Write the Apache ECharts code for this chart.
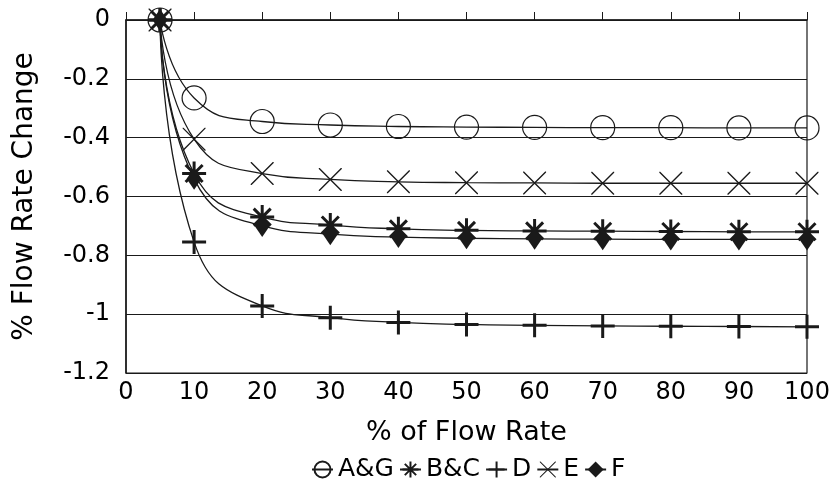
<!DOCTYPE html>
<html>
<head>
<meta charset="utf-8">
<script src="https://cdn.jsdelivr.net/npm/echarts@6/dist/echarts.min.js"></script>
<style>
  html, body { margin: 0; padding: 0; background: #fff; }
  #chart { width: 834px; height: 495px; }
</style>
</head>
<body>
<div id="chart"></div>
<script>
// Data
const flowRates = [5, 10, 20, 30, 40, 50, 60, 70, 80, 90, 100];
const seriesAG = [0, -0.265, -0.345, -0.357, -0.362, -0.364, -0.365, -0.366, -0.366, -0.367, -0.367];
const seriesBC = [0, -0.522, -0.67, -0.697, -0.71, -0.715, -0.717, -0.718, -0.719, -0.72, -0.72];
const seriesD = [0, -0.755, -0.972, -1.012, -1.028, -1.035, -1.038, -1.04, -1.041, -1.042, -1.043];
const seriesE = [0, -0.405, -0.522, -0.542, -0.55, -0.553, -0.554, -0.555, -0.555, -0.555, -0.555];
const seriesF = [0, -0.54, -0.7, -0.728, -0.738, -0.742, -0.744, -0.745, -0.746, -0.746, -0.746];
const seriesNames = ["A&G", "B&C", "D", "E", "F"];

const ink = "#1a1a1a";
const font = "DejaVu Sans";

// Marker shapes (filled outlines)
const plusPath = "path://M10.5,0 L13.5,0 L13.5,10.5 L24,10.5 L24,13.5 L13.5,13.5 L13.5,24 L10.5,24 L10.5,13.5 L0,13.5 L0,10.5 L10.5,10.5 Z";
const crossPath = "path://M0,0 L1,0 L24,23 L24,24 L23,24 L0,1 Z M24,0 L24,1 L1,24 L0,24 L0,23 L23,0 Z";
const starPath =
  "path://M10.5,0 L13.5,0 L13.5,24 L10.5,24 Z " +
  "M0,10.5 L24,10.5 L24,13.5 L0,13.5 Z " +
  "M4.56,2.44 L21.56,19.44 L19.44,21.56 L2.44,4.56 Z " +
  "M21.56,4.56 L4.56,21.56 L2.44,19.44 L19.44,2.44 Z";

function pairs(values) {
  return flowRates.map((x, i) => [x, values[i]]);
}

function makeSeries(name, values, symbol, size, hollow) {
  return {
    name: name,
    type: "line",
    data: pairs(values),
    smooth: true,
    symbol: symbol,
    symbolSize: size,
    showAllSymbol: true,
    lineStyle: { color: ink, width: 1.3 },
    itemStyle: hollow
      ? { color: "rgba(0,0,0,0)", borderColor: ink, borderWidth: 1.2 }
      : { color: ink, borderWidth: 0 },
    emphasis: { disabled: true },
    z: 3,
  };
}

const chart = echarts.init(document.getElementById("chart"));

const option = {
  animation: false,
  textStyle: { fontFamily: font, color: "#000" },
  grid: {
    left: 126,
    right: 27,
    top: 20,
    bottom: 122,
    show: true,
    borderColor: ink,
    borderWidth: 1.2,
  },
  legend: {
    data: seriesNames,
    left: 306,
    top: 452,
    itemWidth: 21,
    itemHeight: 20,
    itemGap: 5,
    textStyle: { fontFamily: font, fontSize: 25, color: "#000" },
  },
  xAxis: {
    type: "value",
    min: 0,
    max: 100,
    interval: 10,
    name: "% of Flow Rate",
    nameLocation: "middle",
    nameGap: 46,
    nameTextStyle: { fontFamily: font, fontSize: 27, color: "#000" },
    axisLine: { lineStyle: { color: ink, width: 1.5 } },
    axisTick: { inside: true, length: 8, lineStyle: { color: ink } },
    axisLabel: { fontFamily: font, fontSize: 24, color: "#000", margin: 8 },
    splitLine: { show: false },
  },
  yAxis: {
    type: "value",
    min: -1.2,
    max: 0,
    interval: 0.2,
    name: "% Flow Rate Change",
    nameLocation: "middle",
    nameGap: 87,
    nameTextStyle: { fontFamily: font, fontSize: 28, color: "#000" },
    axisLine: { show: true, lineStyle: { color: ink, width: 1.5 } },
    axisTick: { show: true, inside: true, length: 4, lineStyle: { color: ink } },
    axisLabel: {
      fontFamily: font,
      fontSize: 24,
      color: "#000",
      margin: 16,
      formatter: (v) => String(+v.toFixed(1)),
    },
    splitLine: { show: true, lineStyle: { color: ink, width: 1.2 } },
  },
  series: [
    makeSeries("A&G", seriesAG, "circle", 24, true),
    makeSeries("B&C", seriesBC, starPath, 24, false),
    makeSeries("D", seriesD, plusPath, 24, false),
    makeSeries("E", seriesE, crossPath, 23, false),
    makeSeries("F", seriesF, "diamond", [15, 22], false),
  ],
};

chart.setOption(option);
</script>
</body>
</html>
